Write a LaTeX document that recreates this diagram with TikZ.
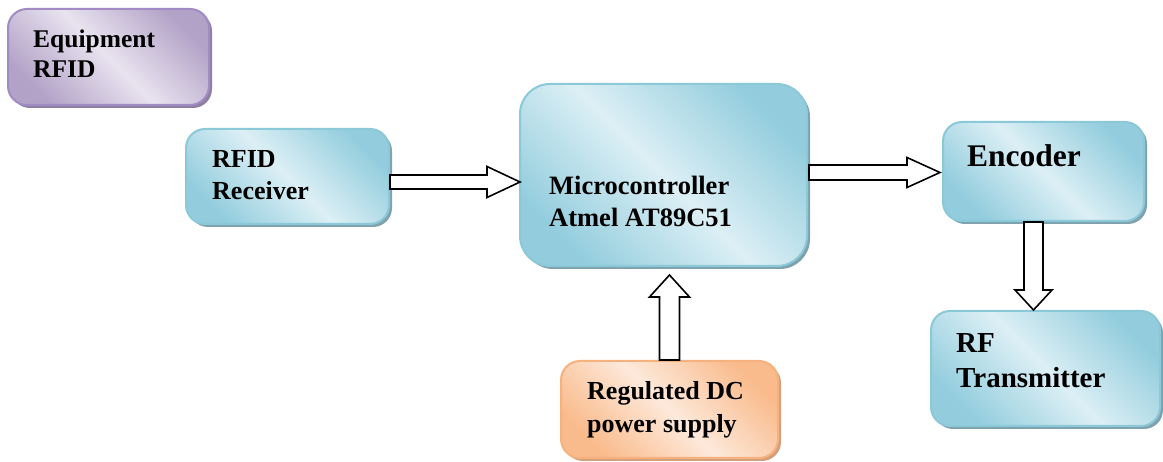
\documentclass[tikz,border=0pt]{standalone}
\usepackage{fontspec}
\setmainfont{Liberation Serif}
\usetikzlibrary{calc,shadows}
\definecolor{bdark}{HTML}{93CDDD}
\definecolor{blight}{HTML}{DCEFF5}
\definecolor{bline}{HTML}{8BC8D8}
\definecolor{bshad}{HTML}{7FA3AE}
\definecolor{pdark}{HTML}{B3A2C7}
\definecolor{plight}{HTML}{E8E3EF}
\definecolor{pline}{HTML}{A28BC4}
\definecolor{pshad}{HTML}{8E7FA3}
\definecolor{odark}{HTML}{F9BB8C}
\definecolor{olight}{HTML}{FDE9DB}
\definecolor{oline}{HTML}{F6B27E}
\definecolor{oshad}{HTML}{D4A07C}
\newcommand\blkR[5]{\draw[barrow] let \p1=#1, \p2=#2 in
  (\x1,\y1+#3pt) -- (\x2-#5pt,\y1+#3pt) -- (\x2-#5pt,\y1+#4pt) -- (\x2,\y1)
  -- (\x2-#5pt,\y1-#4pt) -- (\x2-#5pt,\y1-#3pt) -- (\x1,\y1-#3pt) -- cycle;}
\newcommand\blkD[5]{\draw[barrow] let \p1=#1, \p2=#2 in
  (\x1+#3pt,\y1) -- (\x1+#3pt,\y2+#5pt) -- (\x1+#4pt,\y2+#5pt) -- (\x1,\y2)
  -- (\x1-#4pt,\y2+#5pt) -- (\x1-#3pt,\y2+#5pt) -- (\x1-#3pt,\y1) -- cycle;}
\newcommand\blkU[5]{\draw[barrow] let \p1=#1, \p2=#2 in
  (\x1+#3pt,\y1) -- (\x1+#3pt,\y2-#5pt) -- (\x1+#4pt,\y2-#5pt) -- (\x1,\y2)
  -- (\x1-#4pt,\y2-#5pt) -- (\x1-#3pt,\y2-#5pt) -- (\x1-#3pt,\y1) -- cycle;}
\begin{document}
\begin{tikzpicture}[x=1pt,y=-1pt,
  box/.style={inner sep=0pt, anchor=north west, line width=2pt, rounded corners=19pt},
  bluebox/.style={box, draw=bline, top color=bdark, bottom color=bdark, middle color=blight,
    shading angle=-45, drop shadow={shadow xshift=3pt, shadow yshift=-3pt, fill=bshad, opacity=1}},
  purplebox/.style={box, draw=pline, top color=pdark, bottom color=pdark, middle color=plight,
    shading angle=-45, drop shadow={shadow xshift=3pt, shadow yshift=-3pt, fill=pshad, opacity=1}},
  orangebox/.style={box, draw=oline, top color=odark, bottom color=odark, middle color=olight,
    shading angle=-45, drop shadow={shadow xshift=3pt, shadow yshift=-3pt, fill=oshad, opacity=1}},
  lbl/.style={inner sep=0pt, anchor=base west, align=left, font=\bfseries},
  barrow/.style={draw=black, fill=white, line width=1.6pt, line join=miter}]
\useasboundingbox (0,0) rectangle (1163,462);
% boxes
\node[purplebox, minimum width=201pt, minimum height=96pt] (eq) at (7,8) {};
\node[bluebox, minimum width=203pt, minimum height=95pt] (rx) at (185,128) {};
\node[bluebox, rounded corners=30pt, minimum width=287pt, minimum height=182pt] (mc) at (519,83) {};
\node[bluebox, minimum width=201pt, minimum height=99pt] (enc) at (942,121) {};
\node[bluebox, minimum width=229pt, minimum height=115pt] (tx) at (930,310) {};
\node[orangebox, minimum width=217pt, minimum height=97pt] (ps) at (560,360) {};
% texts (base = last line)
\node[lbl, font=\bfseries\fontsize{25.5}{30}\selectfont] (eqt) at (33,78) {Equipment\\RFID};
\node[lbl, font=\bfseries\fontsize{26}{32}\selectfont] (rxt) at (212,200) {RFID\\Receiver};
\node[lbl, font=\bfseries\fontsize{26.5}{32}\selectfont] (mct) at (549,227) {Microcontroller\\Atmel AT89C51};
\node[lbl, font=\bfseries\fontsize{31.5}{36}\selectfont] (enct) at (967,167) {Encoder};
\node[lbl, font=\bfseries\fontsize{29}{35}\selectfont] (txt) at (956,388) {RF\\Transmitter};
\node[lbl, font=\bfseries\fontsize{26}{33}\selectfont] (pst) at (587,433) {Regulated DC\\power supply};
% block arrows
\blkR{($(rx.east)+(0,5.5)$)}{($(mc.west)+(1,0)$)}{7}{15.5}{33}
\blkR{($(mc.east)+(1,-2.5)$)}{($(enc.west)+(-2,0)$)}{7.5}{15}{33}
\blkD{($(enc.south)+(-10,0)$)}{(tx.north)}{9.5}{18.5}{20}
\blkU{(ps.north)}{($(mc.south)+(0,8)$)}{10}{20}{22}
\end{tikzpicture}
\end{document}
